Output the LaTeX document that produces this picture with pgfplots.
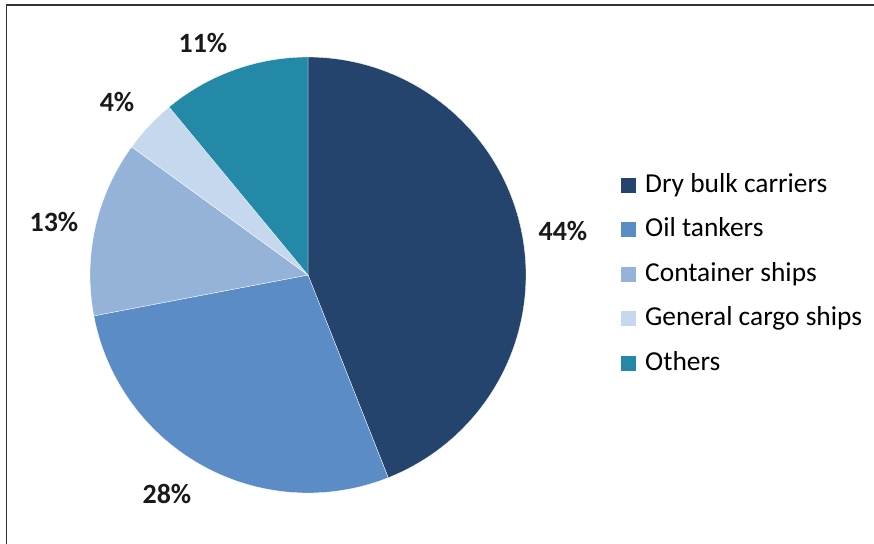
\documentclass[border=0pt]{standalone}
\usepackage{pgfplots}
\pgfplotsset{compat=1.18}
\usepackage{fontspec}
\setmainfont{Carlito}
\definecolor{cDry}{HTML}{24446E}
\definecolor{cOil}{HTML}{5B8CC6}
\definecolor{cCont}{HTML}{95B3D9}
\definecolor{cGen}{HTML}{C6D8EE}
\definecolor{cOth}{HTML}{2389A6}
% shares (%)
\def\vA{44}\def\vB{28}\def\vC{13}\def\vD{4}\def\vE{11}
\pgfmathsetmacro{\aO}{90}
\pgfmathsetmacro{\aA}{\aO-3.6*\vA}
\pgfmathsetmacro{\aB}{\aA-3.6*\vB}
\pgfmathsetmacro{\aC}{\aB-3.6*\vC}
\pgfmathsetmacro{\aD}{\aC-3.6*\vD}
\pgfmathsetmacro{\aE}{\aD-3.6*\vE}
\begin{document}
\begin{tikzpicture}
\begin{axis}[
  scale only axis, width=874bp, height=544bp,
  xmin=0, xmax=874, ymin=0, ymax=544, y dir=reverse,
  hide axis, clip=false, samples=90, variable=\t,
  legend cell align=left,
  legend image code/.code={\fill[#1,draw=none] (0bp,-6.5bp) rectangle (15bp,8.5bp); \path[draw=none,fill=none] (0bp,0bp) -- (24bp,0bp);},
  legend style={at={(axis cs:621,175)}, anchor=north west, draw=none, fill=none,
    inner sep=0pt, row sep=22.5bp, font=\fontsize{27.5}{30}\selectfont,
    nodes={inner sep=0pt, text height=17bp, text depth=5bp},
    /tikz/every even column/.append style={column sep=0bp}},
]
\addplot[fill=cDry, draw=white, line width=0.3bp, domain=\aA:\aO] ({308+218*cos(\t)},{275-218*sin(\t)}) -- (axis cs:308,275) -- cycle;
\addlegendentry{Dry bulk carriers}
\addplot[fill=cOil, draw=white, line width=0.3bp, domain=\aB:\aA] ({308+218*cos(\t)},{275-218*sin(\t)}) -- (axis cs:308,275) -- cycle;
\addlegendentry{Oil tankers}
\addplot[fill=cCont, draw=white, line width=0.3bp, domain=\aC:\aB] ({308+218*cos(\t)},{275-218*sin(\t)}) -- (axis cs:308,275) -- cycle;
\addlegendentry{Container ships}
\addplot[fill=cGen, draw=white, line width=0.3bp, domain=\aD:\aC] ({308+218*cos(\t)},{275-218*sin(\t)}) -- (axis cs:308,275) -- cycle;
\addlegendentry{General cargo ships}
\addplot[fill=cOth, draw=white, line width=0.3bp, domain=\aE:\aD] ({308+218*cos(\t)},{275-218*sin(\t)}) -- (axis cs:308,275) -- cycle;
\addlegendentry{Others}
\begin{scope}[every node/.style={font=\fontsize{28}{30}\selectfont\bfseries, text=black!90}]
\node at (axis cs:563,231) {\vA\%};
\node at (axis cs:167,494) {\vB\%};
\node at (axis cs:54,222) {\vC\%};
\node at (axis cs:117,102) {\vD\%};
\node at (axis cs:203,43) {\vE\%};
\end{scope}
\draw[line width=1.5bp, color=black!80] (axis cs:6.5,544) -- (axis cs:6.5,5) -- (axis cs:874,5);
\coordinate (BL) at (axis cs:0,544);
\coordinate (TR) at (axis cs:874,0);
\end{axis}
\pgfresetboundingbox
\path[use as bounding box] (BL) rectangle (TR);
\end{tikzpicture}
\end{document}
